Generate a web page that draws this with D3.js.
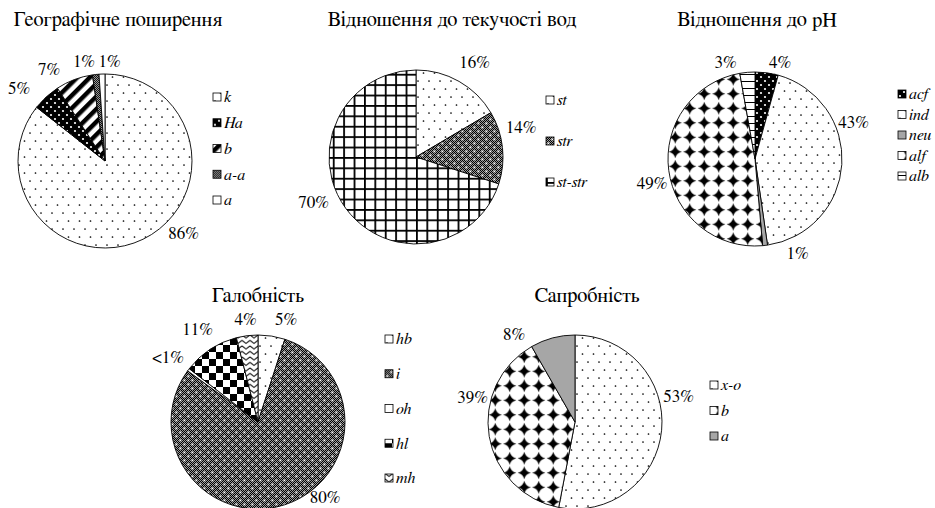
<!DOCTYPE html>
<html><head><meta charset="utf-8">
<script src="https://cdn.jsdelivr.net/npm/d3@7"></script>
<style>
html,body{margin:0;padding:0;background:#fff;}
svg{display:block;}
</style></head>
<body>
<svg id="chart" width="935" height="508"></svg>
<script>
// ---------- DATA ----------
const geoTitle = "Географічне поширення";
const geoCategories = ["k", "Ha", "b", "a-a", "a"];
const geoValues = [85.6, 5.2, 6.9, 1.2, 1.1];
const geoLabels = ["86%", "5%", "7%", "1%", "1%"];

const flowTitle = "Відношення до текучості вод";
const flowCategories = ["st", "str", "st-str"];
const flowValues = [16.5, 13.5, 70];
const flowLabels = ["16%", "14%", "70%"];

const phTitle = "Відношення до pH";
const phCategories = ["acf", "ind", "neu", "alf", "alb"];
const phValues = [4.3, 43.4, 0.9, 48.6, 2.8];
const phLabels = ["4%", "43%", "1%", "49%", "3%"];

const haloTitle = "Галобність";
const haloCategories = ["hb", "i", "oh", "hl", "mh"];
const haloValues = [5, 80, 0.5, 10.5, 4];
const haloLabels = ["5%", "80%", "<1%", "11%", "4%"];

const saproTitle = "Сапробність";
const saproCategories = ["x-o", "b", "a"];
const saproValues = [53, 38.7, 8.3];
const saproLabels = ["53%", "39%", "8%"];

// ---------- STYLE / LAYOUT ----------
const FONT = "FreeSerif, 'Liberation Serif', 'Times New Roman', serif";
const geoFills = ["dots", "blackDots", "stripes", "fineCheck", "white"];
const flowFills = ["dots", "darkDots", "grid"];
const phFills = ["blackDots", "dots", "gray", "diamonds", "hlines"];
const haloFills = ["dots", "darkDots", "white", "checker", "waves"];
const saproFills = ["dots", "diamonds", "gray"];

const charts = [
  {title: geoTitle, cats: geoCategories, vals: geoValues, labels: geoLabels, fills: geoFills,
   cx: 105, cy: 161, r: 87, tx: 118, ty: 26, lx: 213, ly0: 97, lstep: 25.75,
   lab: [[132.5,106.5],[310.3,112.8],[328.7,107.7],[348.1,102.2],[2.6,100.1]]},
  {title: flowTitle, cats: flowCategories, vals: flowValues, labels: flowLabels, fills: flowFills,
   cx: 416, cy: 157, r: 87, tx: 452, ty: 26, lx: 546, ly0: 100, lstep: 41,
   lab: [[31.6,111.6],[74.1,109.2],[246.3,111.9]]},
  {title: phTitle, cats: phCategories, vals: phValues, labels: phLabels, fills: phFills,
   cx: 755, cy: 159, r: 87, tx: 757, ty: 26, lx: 898, ly0: 94, lstep: 20.5,
   lab: [[14.5,100.2],[69.4,105.2],[155.7,103.2],[256.9,105.8],[343.1,101.4]]},
  {title: haloTitle, cats: haloCategories, vals: haloValues, labels: haloLabels, fills: haloFills,
   cx: 258, cy: 422, r: 87, tx: 258, ty: 302, lx: 385, ly0: 339, lstep: 34.75,
   lab: [[15.2,106.7],[138.2,100.6],[305.8,111],[327,111],[353.1,103.8]]},
  {title: saproTitle, cats: saproCategories, vals: saproValues, labels: saproLabels, fills: saproFills,
   cx: 575, cy: 422, r: 87, tx: 587, ty: 302, lx: 710, ly0: 385, lstep: 25.5,
   lab: [[75.9,106.7],[283.7,105.5],[325.3,107]]}
];

const svg = d3.select("#chart");
const defs = svg.append("defs");

function pat(id, w, h, transform) {
  const p = defs.append("pattern").attr("id", id).attr("patternUnits", "userSpaceOnUse")
    .attr("width", w).attr("height", h);
  if (transform) p.attr("patternTransform", transform);
  return p;
}
// dotted white
{ const p = pat("dots", 11, 16);
  p.append("rect").attr("width", 11).attr("height", 16).attr("fill", "#fff");
  p.append("circle").attr("cx", 2).attr("cy", 4).attr("r", 0.85).attr("fill", "#000");
  p.append("circle").attr("cx", 7.5).attr("cy", 12).attr("r", 0.85).attr("fill", "#000"); }
// black with white dots
{ const p = pat("blackDots", 8, 8);
  p.append("rect").attr("width", 8).attr("height", 8).attr("fill", "#000");
  p.append("circle").attr("cx", 2).attr("cy", 2).attr("r", 1.1).attr("fill", "#fff");
  p.append("circle").attr("cx", 6).attr("cy", 6).attr("r", 1.1).attr("fill", "#fff"); }
// diagonal stripes
{ const p = pat("stripes", 9, 9, "rotate(45)");
  p.append("rect").attr("width", 9).attr("height", 9).attr("fill", "#fff");
  p.append("rect").attr("width", 4.5).attr("height", 9).attr("fill", "#000"); }
// fine check (gray)
{ const p = pat("fineCheck", 2, 2);
  p.append("rect").attr("width", 2).attr("height", 2).attr("fill", "#999");
  p.append("rect").attr("width", 1).attr("height", 1).attr("fill", "#111");
  p.append("rect").attr("x", 1).attr("y", 1).attr("width", 1).attr("height", 1).attr("fill", "#111"); }
// dark check with white dots
{ const p = pat("darkDots", 8, 8);
  p.append("rect").attr("width", 8).attr("height", 8).attr("fill", "#000");
  for (let y = 0; y < 8; y++) for (let x = 0; x < 8; x++) if ((x + y) % 2 === 0)
    p.append("rect").attr("x", x).attr("y", y).attr("width", 1).attr("height", 1).attr("fill", "#9a9a9a");
  p.append("rect").attr("x", 1.5).attr("y", 1.5).attr("width", 1.8).attr("height", 1.8).attr("fill", "#fff");
  p.append("rect").attr("x", 5.5).attr("y", 5.5).attr("width", 1.8).attr("height", 1.8).attr("fill", "#fff"); }
// grid
{ const p = pat("grid", 10.4, 10.4);
  p.append("rect").attr("width", 10.4).attr("height", 10.4).attr("fill", "#fff");
  p.append("rect").attr("width", 10.4).attr("height", 1.8).attr("fill", "#000");
  p.append("rect").attr("width", 1.8).attr("height", 10.4).attr("fill", "#000"); }
// diamonds
{ const s = 14.5, h = 6.6, c = s / 2, k = 1.2;
  const p = pat("diamonds", s, s);
  p.append("rect").attr("width", s).attr("height", s).attr("fill", "#fff");
  p.append("path").attr("fill", "#000")
    .attr("d", `M${c},${c-h} Q${c+k},${c-k} ${c+h},${c} Q${c+k},${c+k} ${c},${c+h} Q${c-k},${c+k} ${c-h},${c} Q${c-k},${c-k} ${c},${c-h}Z`); }
// checkerboard
{ const p = pat("checker", 14, 14);
  p.append("rect").attr("width", 14).attr("height", 14).attr("fill", "#fff");
  p.append("rect").attr("width", 7).attr("height", 7).attr("fill", "#000");
  p.append("rect").attr("x", 7).attr("y", 7).attr("width", 7).attr("height", 7).attr("fill", "#000"); }
// waves
{ const p = pat("waves", 8, 5.5);
  p.append("rect").attr("width", 8).attr("height", 5.5).attr("fill", "#fff");
  p.append("path").attr("d", "M0,1 L4,4 L8,1").attr("stroke", "#000").attr("stroke-width", 1.1).attr("fill", "none"); }
// horizontal lines
{ const p = pat("hlines", 7, 7);
  p.append("rect").attr("width", 7).attr("height", 7).attr("fill", "#fff");
  p.append("rect").attr("y", 6).attr("width", 7).attr("height", 1).attr("fill", "#000"); }

const fillFor = f => f === "white" ? "#fff" : f === "gray" ? "#a6a6a6" : `url(#${f})`;

charts.forEach(ch => {
  const g = svg.append("g");
  const pie = d3.pie().sort(null).value(d => d)(ch.vals);
  const arc = d3.arc().innerRadius(0).outerRadius(ch.r);
  const pg = g.append("g").attr("transform", `translate(${ch.cx},${ch.cy})`);
  pg.selectAll("path.slice").data(pie).join("path").attr("class", "slice")
    .attr("d", arc).attr("fill", (d, i) => fillFor(ch.fills[i]))
    .attr("stroke", "#000").attr("stroke-width", 0.9).attr("stroke-linejoin", "round");

  // data labels
  pg.selectAll("text.lbl").data(pie).join("text").attr("class", "lbl")
    .attr("x", (d, i) => Math.sin(ch.lab[i][0] * Math.PI / 180) * ch.lab[i][1])
    .attr("y", (d, i) => -Math.cos(ch.lab[i][0] * Math.PI / 180) * ch.lab[i][1])
    .attr("dy", "0.35em").attr("text-anchor", "middle")
    .style("font-family", FONT).style("font-size", "17px")
    .text((d, i) => ch.labels[i]);

  // title
  g.append("text").attr("x", ch.tx).attr("y", ch.ty).attr("text-anchor", "middle")
    .style("font-family", FONT).style("font-size", "20.5px").text(ch.title);

  // legend
  const yScale = d3.scaleLinear().domain([0, 1]).range([ch.ly0, ch.ly0 + ch.lstep]);
  const lg = g.append("g");
  const items = lg.selectAll("g").data(ch.cats).join("g")
    .attr("transform", (d, i) => `translate(${ch.lx},${yScale(i)})`);
  items.append("rect").attr("x", 0).attr("y", -4).attr("width", 8).attr("height", 8)
    .attr("fill", (d, i) => fillFor(ch.fills[i])).attr("stroke", "#000").attr("stroke-width", 0.8);
  items.append("text").attr("x", 11).attr("y", 0).attr("dy", "0.33em")
    .style("font-family", FONT).style("font-size", "16px").style("font-style", "italic").text(d => d);
});
</script>
</body></html>
